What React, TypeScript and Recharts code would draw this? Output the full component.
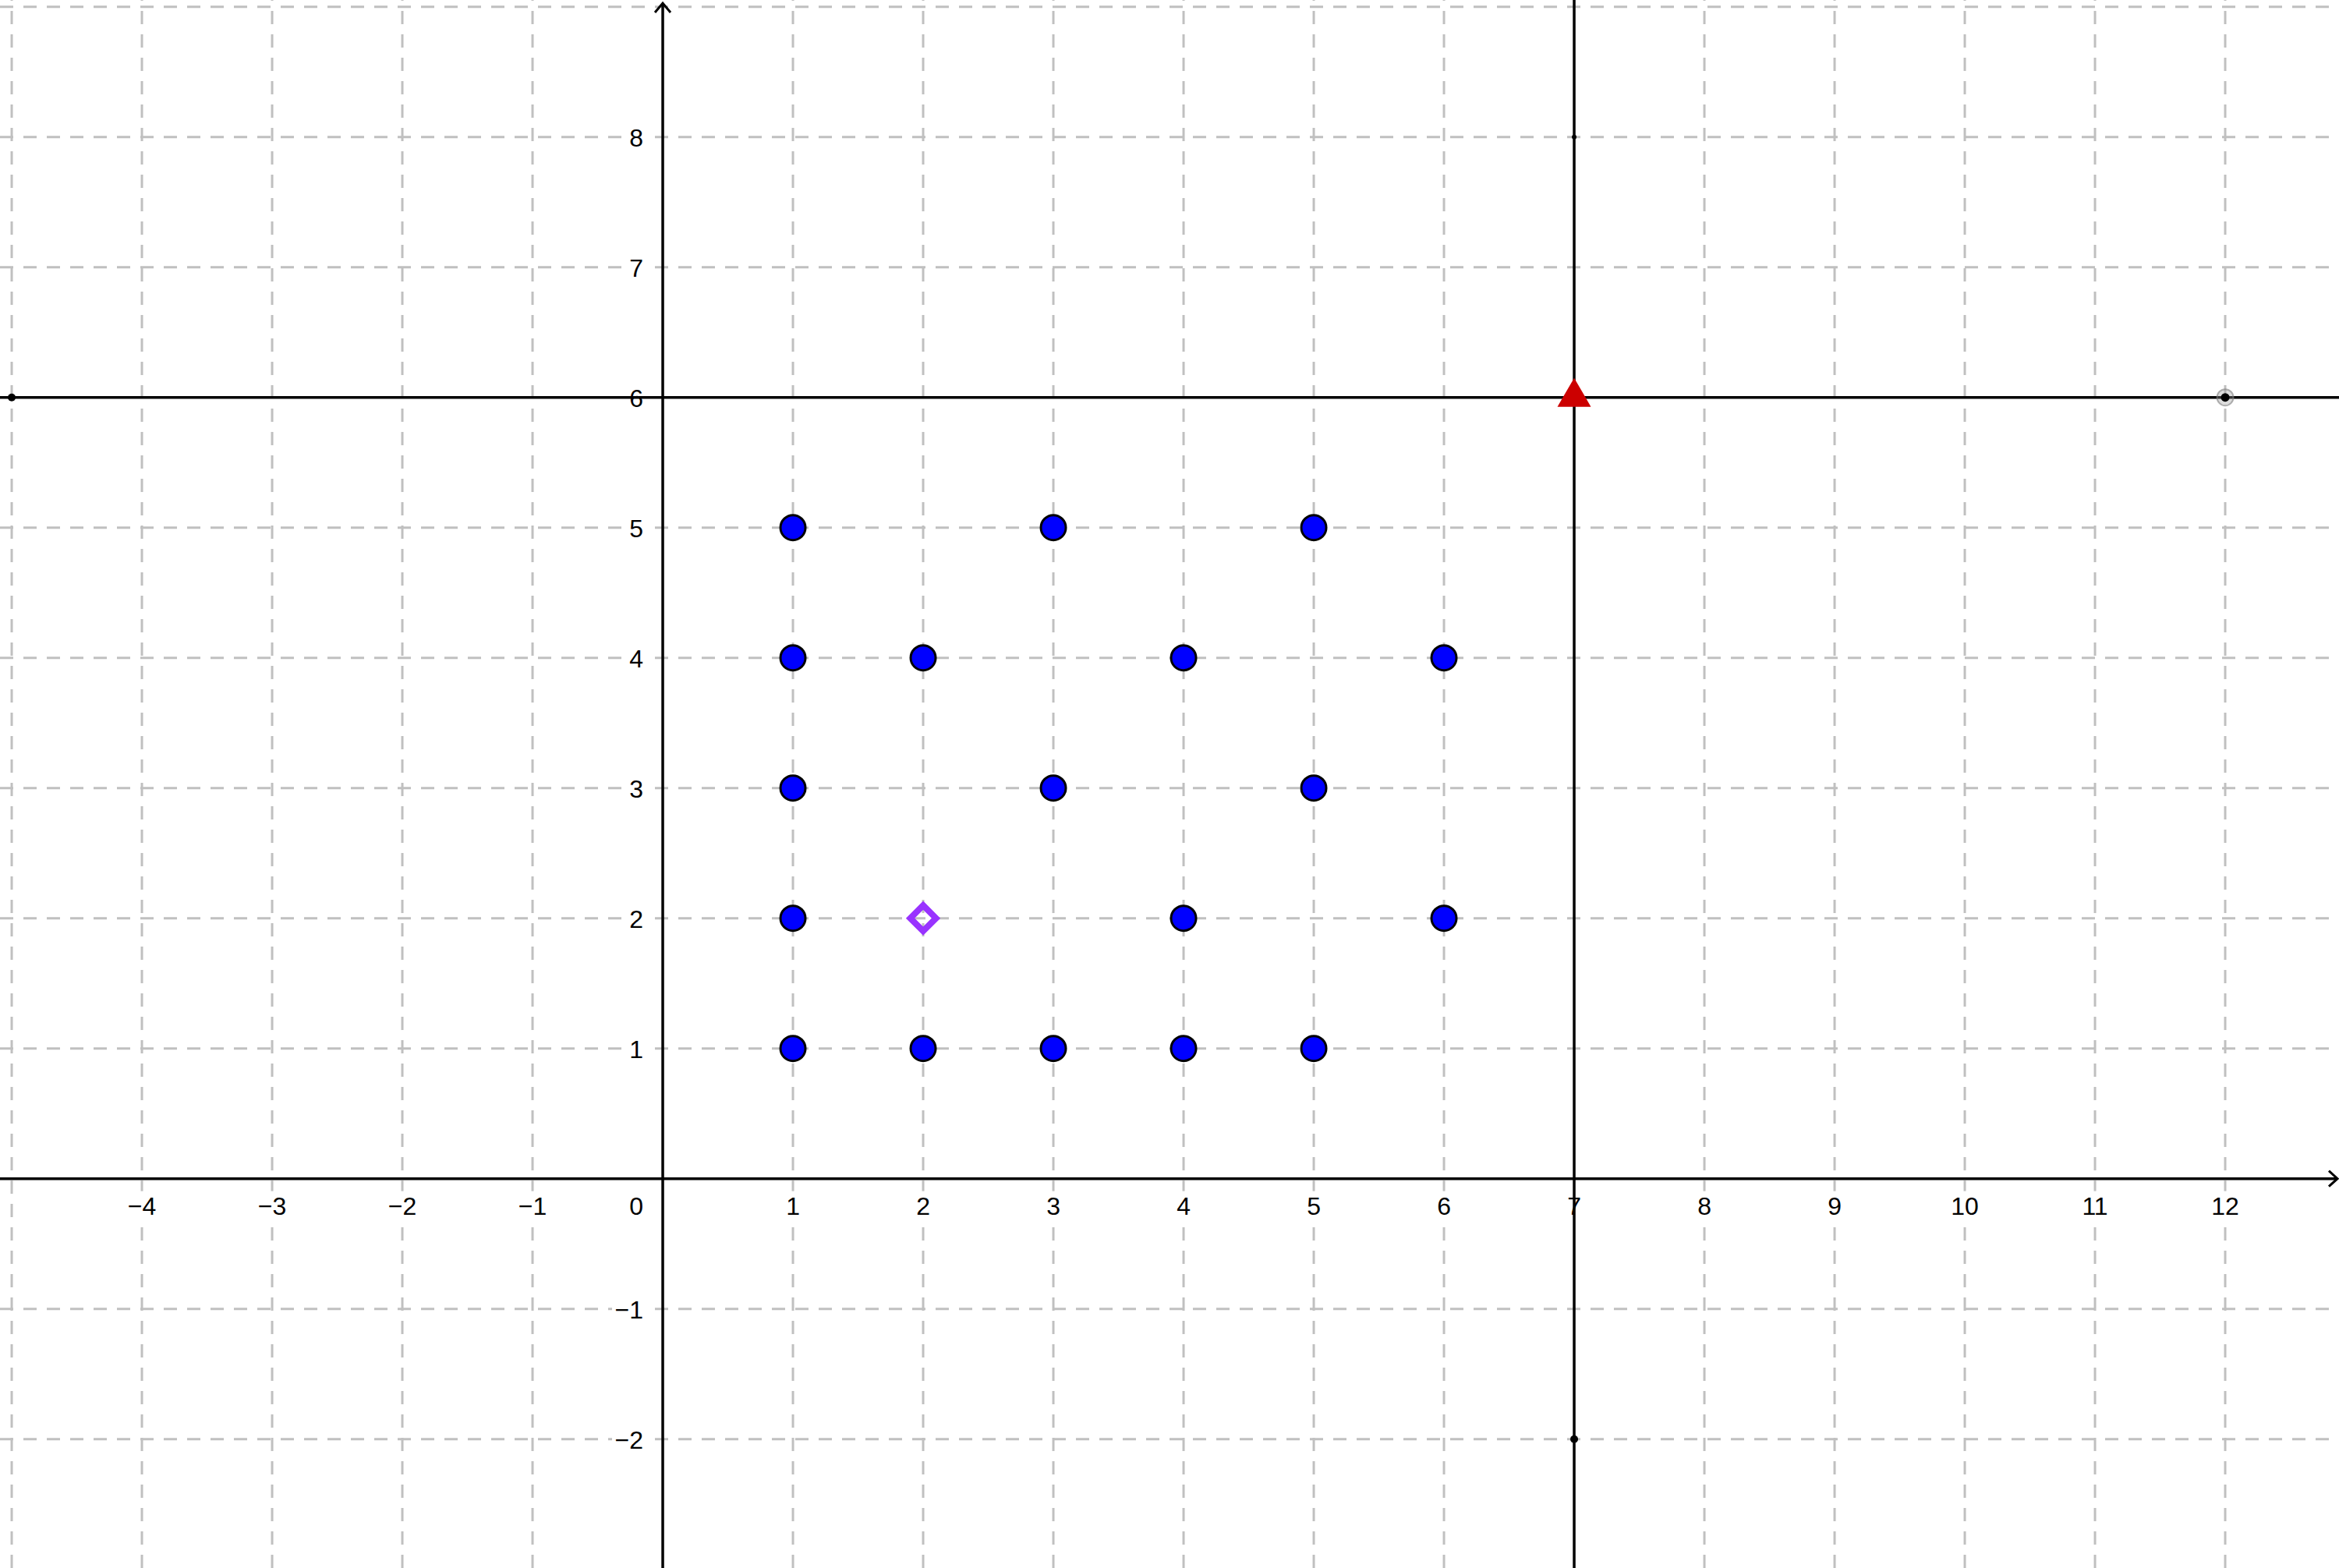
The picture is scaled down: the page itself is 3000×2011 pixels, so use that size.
import React from 'react'
import { ScatterChart, Scatter, XAxis, YAxis, ReferenceLine } from 'recharts'

const WIDTH = 3000
const HEIGHT = 2011

const X_DOMAIN = [-5.09, 12.874]
const Y_DOMAIN = [-2.99, 9.052]

const GRID_X = [-5, -4, -3, -2, -1, 1, 2, 3, 4, 5, 6, 8, 9, 10, 11, 12]
const GRID_Y = [-2, -1, 1, 2, 3, 4, 5, 7, 8, 9]

const X_TICKS = [-4, -3, -2, -1, 1, 2, 3, 4, 5, 6, 7, 8, 9, 10, 11, 12]
const Y_TICKS = [-2, -1, 1, 2, 3, 4, 5, 6, 7, 8]

const LINE_X = 7
const LINE_Y = 6

const BLUE_X = [1, 3, 5, 1, 2, 4, 6, 1, 3, 5, 1, 4, 6, 1, 2, 3, 4, 5]
const BLUE_Y = [5, 5, 5, 4, 4, 4, 4, 3, 3, 3, 2, 2, 2, 1, 1, 1, 1, 1]

const TRIANGLE = [{ x: 7, y: 6 }]
const DIAMOND = [{ x: 2, y: 2 }]
const SMALL_DOTS = [
  { x: -5, y: 6, r: 5 },
  { x: 7, y: -2, r: 5 },
  { x: 7, y: 8, r: 3 },
]
const HALO_POINT = [{ x: 12, y: 6 }]

const FONT = '"Liberation Sans", Arial, Helvetica, sans-serif'
const FONT_SIZE = 32
const GRID_COLOR = '#c0c0c0'

const fmt = (v: number) => (v < 0 ? `\u2212${Math.abs(v)}` : String(v))

const blueData = BLUE_X.map((x, i) => ({ x, y: BLUE_Y[i] }))
// labels sitting on the solid lines x=7 / y=6 get no white backing, so the line stays visible
const xLabelData = X_TICKS.map((v) => ({ x: v, y: 0, label: fmt(v), bg: v !== LINE_X }))
const yLabelData = Y_TICKS.map((v) => ({ x: 0, y: v, label: fmt(v), bg: v !== LINE_Y }))
const originData = [{ x: 0, y: 0, label: '0' }]

const textWidth = (s: string) => s.length * 18

const XLabel = (props: any) => {
  const { cx, cy, payload } = props
  const w = textWidth(payload.label)
  return (
    <g>
      {payload.bg && <rect x={cx - w / 2 - 4} y={cy + 16} width={w + 8} height={36} fill="#fff" />}
      <text x={cx} y={cy + 46} textAnchor="middle" fontFamily={FONT} fontSize={FONT_SIZE} fill="#000">
        {payload.label}
      </text>
    </g>
  )
}

const YLabel = (props: any) => {
  const { cx, cy, payload } = props
  const w = textWidth(payload.label)
  return (
    <g>
      {payload.bg && <rect x={cx - 25 - w - 4} y={cy - 17} width={w + 8} height={34} fill="#fff" />}
      <text x={cx - 25} y={cy + 12} textAnchor="end" fontFamily={FONT} fontSize={FONT_SIZE} fill="#000">
        {payload.label}
      </text>
    </g>
  )
}

const OriginLabel = (props: any) => {
  const { cx, cy, payload } = props
  return (
    <text x={cx - 25} y={cy + 46} textAnchor="end" fontFamily={FONT} fontSize={FONT_SIZE} fill="#000">
      {payload.label}
    </text>
  )
}

const VerticalArrowAxis = (props: any) => {
  const { x1, y1, y2 } = props
  const top = Math.min(y1, y2) + 4
  const bottom = Math.max(y1, y2)
  return (
    <g>
      <line x1={x1} y1={bottom} x2={x1} y2={top} stroke="#000" strokeWidth={3.5} />
      <polyline
        points={`${x1 - 10},${top + 12} ${x1},${top} ${x1 + 10},${top + 12}`}
        fill="none"
        stroke="#000"
        strokeWidth={3}
      />
    </g>
  )
}

const HorizontalArrowAxis = (props: any) => {
  const { x1, x2, y1 } = props
  const right = Math.max(x1, x2) - 2
  const left = Math.min(x1, x2)
  return (
    <g>
      <line x1={left} y1={y1} x2={right} y2={y1} stroke="#000" strokeWidth={3.5} />
      <polyline
        points={`${right - 11},${y1 - 10} ${right},${y1} ${right - 11},${y1 + 10}`}
        fill="none"
        stroke="#000"
        strokeWidth={3}
      />
    </g>
  )
}

const BlueDot = (props: any) => (
  <circle cx={props.cx} cy={props.cy} r={16} fill="#0000ff" stroke="#000" strokeWidth={3} />
)

const RedTriangle = (props: any) => {
  const { cx, cy } = props
  return <polygon points={`${cx},${cy - 25} ${cx + 21.5},${cy + 12} ${cx - 21.5},${cy + 12}`} fill="#cc0000" />
}

const PurpleDiamond = (props: any) => {
  const { cx, cy } = props
  const d = 16.5
  return (
    <polygon
      points={`${cx},${cy - d} ${cx + d},${cy} ${cx},${cy + d} ${cx - d},${cy}`}
      fill="none"
      stroke="#9933ff"
      strokeWidth={8}
      strokeLinejoin="miter"
    />
  )
}

const SmallDot = (props: any) => (
  <circle cx={props.cx} cy={props.cy} r={props.payload.r} fill="#000" />
)

const HaloDot = (props: any) => (
  <g>
    <circle cx={props.cx} cy={props.cy} r={10.5} fill="#9a9a9a" fillOpacity={0.35} stroke="#808080" strokeOpacity={0.6} strokeWidth={2} />
    <circle cx={props.cx} cy={props.cy} r={5.5} fill="#000" />
  </g>
)

export default function App() {
  return (
    <div style={{ position: 'absolute', left: 0, top: 0, background: '#fff' }}>
      <ScatterChart width={WIDTH} height={HEIGHT} margin={{ top: 0, right: 0, bottom: 0, left: 0 }}>
        <XAxis type="number" dataKey="x" domain={X_DOMAIN} allowDataOverflow hide />
        <YAxis type="number" dataKey="y" domain={Y_DOMAIN} allowDataOverflow hide />

        {GRID_X.map((v) => (
          <ReferenceLine key={`gx${v}`} x={v} stroke={GRID_COLOR} strokeWidth={3} strokeDasharray="17 13" />
        ))}
        {GRID_Y.map((v) => (
          <ReferenceLine key={`gy${v}`} y={v} stroke={GRID_COLOR} strokeWidth={3} strokeDasharray="17 13" />
        ))}

        <Scatter data={xLabelData} shape={XLabel} isAnimationActive={false} />
        <Scatter data={yLabelData} shape={YLabel} isAnimationActive={false} />
        <Scatter data={originData} shape={OriginLabel} isAnimationActive={false} />

        <ReferenceLine x={0} shape={VerticalArrowAxis} />
        <ReferenceLine y={0} shape={HorizontalArrowAxis} />
        <ReferenceLine x={LINE_X} stroke="#000" strokeWidth={3.5} />
        <ReferenceLine y={LINE_Y} stroke="#000" strokeWidth={3.5} />

        <Scatter data={SMALL_DOTS} shape={SmallDot} isAnimationActive={false} />
        <Scatter data={HALO_POINT} shape={HaloDot} isAnimationActive={false} />
        <Scatter data={blueData} shape={BlueDot} isAnimationActive={false} />
        <Scatter data={DIAMOND} shape={PurpleDiamond} isAnimationActive={false} />
        <Scatter data={TRIANGLE} shape={RedTriangle} isAnimationActive={false} />
      </ScatterChart>
    </div>
  )
}
